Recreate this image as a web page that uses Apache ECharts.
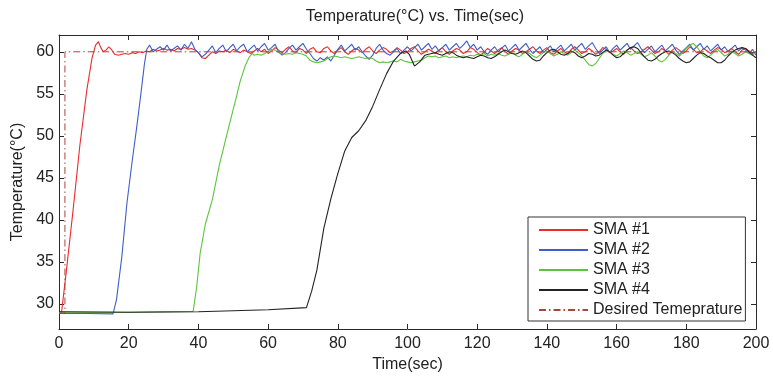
<!DOCTYPE html>
<html>
<head>
<meta charset="utf-8">
<script src="https://cdn.jsdelivr.net/npm/echarts@6/dist/echarts.min.js"></script>
<style>
html,body{margin:0;padding:0;background:#fff;}
#chart{width:773px;height:380px;}
</style>
</head>
<body>
<div id="chart"></div>
<script>
// ---- axis ticks ----
const xTicks = [0, 20, 40, 60, 80, 100, 120, 140, 160, 180, 200];
const yTicks = [30, 35, 40, 45, 50, 55, 60];

// ---- SMA #1 (red) ----
const sma1RiseTime = [0, 0.7, 2, 4, 6, 8, 9.5, 10.5, 11.3, 12, 12.7, 13.5, 14.3, 15, 16];
const sma1RiseTemp = [28.9, 28.9, 33.5, 41, 48.9, 55.5, 59.3, 60.8, 61.2, 60.5, 60.0, 60.2, 60.6, 60.3, 59.7];
const sma1HoldStart = 17; // 1 s samples
const sma1HoldTemp = [
  59.6, 59.7, 59.8, 59.7, 59.9, 59.8, 60.0, 59.9, 60.1, 60.0,
  60.3, 60.1, 60.2, 60.4, 60.2, 60.3, 60.1, 60.4, 60.3, 60.5,
  60.3, 60.4, 60.2, 59.9, 59.3, 59.2, 59.6, 60.0, 59.8, 60.1,
  60.0, 60.2, 59.9, 60.3, 60.1, 59.9, 60.2, 60.0, 59.8, 60.1,
  60.4, 60.0, 60.3, 59.8, 60.1, 60.5, 60.2, 59.9, 60.3, 60.6,
  60.1, 59.9, 60.4, 60.2, 59.8, 60.3, 60.5, 60.0, 59.9, 60.4,
  60.6, 60.1, 59.8, 60.2, 60.5, 60.0, 59.7, 60.1, 60.4, 60.2,
  59.9, 60.3, 60.6, 60.1, 59.8, 60.2, 60.5, 60.3, 59.9, 60.1,
  60.5, 60.2, 59.8, 60.0, 60.4, 60.6, 60.1, 59.7, 60.0, 60.3,
  60.1, 59.8, 60.2, 60.5, 60.0, 59.7, 60.1, 60.4, 60.2, 59.8,
  60.0, 60.5, 60.3, 59.9, 59.6, 60.0, 60.4, 60.1, 59.8, 60.2,
  60.5, 60.0, 59.7, 60.1, 60.4, 60.2, 59.8, 60.0, 60.3, 60.6,
  60.1, 59.8, 60.2, 60.5, 59.9, 59.7, 60.1, 60.4, 60.0, 59.8,
  60.3, 60.6, 60.2, 59.8, 60.0, 60.4, 60.1, 59.7, 60.0, 60.5,
  60.3, 59.9, 60.1, 60.4, 60.0, 59.7, 60.2, 60.5, 60.1, 59.8,
  60.0, 60.3, 60.6, 60.2, 59.8, 60.0, 60.4, 60.1, 59.7, 60.2,
  60.5, 60.2, 59.8, 60.1, 60.6, 60.3, 59.9, 60.0, 60.4, 60.1,
  59.8, 60.2, 60.5, 60.3, 59.9, 60.1, 60.4, 60.0, 59.7, 60.2,
  60.4, 60.1, 59.8, 60.0
];

// ---- SMA #2 (blue) ----
const sma2RiseTime = [0, 8, 15.5, 16.5, 18, 19.5, 21, 22.2, 23.5, 24.5, 25.2];
const sma2RiseTemp = [28.85, 28.85, 28.8, 30.5, 35.5, 42, 47, 50.7, 55, 58.5, 60.3];
const sma2HoldStart = 26;
const sma2HoldTemp = [
  60.8, 60.0, 60.3, 60.6, 60.2, 60.8, 60.1, 60.4, 60.7, 60.2,
  60.9, 60.4, 61.2, 60.3, 59.9, 59.4, 59.7, 60.2, 60.7, 59.9,
  60.4, 60.8, 60.0, 60.5, 60.9, 60.1, 60.6, 60.9, 60.0, 60.4,
  60.8, 60.1, 60.6, 61.0, 60.2, 60.5, 60.9, 60.0, 59.6, 59.9,
  60.4, 60.8, 60.2, 60.6, 61.0, 60.3, 59.8, 59.2, 58.9, 59.3,
  59.0, 59.4, 58.9, 59.6, 60.3, 60.8, 60.1, 60.5, 60.9, 60.2,
  60.6, 60.0, 59.5, 59.1, 59.6, 60.4, 60.9, 60.2, 59.8, 59.6,
  60.0, 60.4, 59.8, 60.2, 60.6, 60.1, 60.5, 60.9, 60.2, 60.6,
  61.0, 60.3, 60.7, 60.1, 60.5, 60.9, 60.2, 60.6, 61.0, 60.4,
  60.8, 61.3, 60.5, 60.9, 60.2, 60.6, 60.0, 59.7, 60.2, 60.6,
  60.0, 60.4, 60.8, 60.1, 60.5, 60.9, 60.2, 60.6, 61.0, 60.3,
  59.8, 60.2, 60.6, 59.9, 60.3, 60.7, 60.0, 60.4, 60.8, 60.1,
  60.5, 60.9, 60.2, 60.6, 61.0, 60.3, 60.7, 61.1, 60.4, 59.8,
  60.2, 60.6, 59.9, 60.4, 60.8, 60.2, 60.6, 61.0, 60.3, 60.7,
  61.1, 60.4, 59.9, 60.3, 60.7, 60.0, 60.4, 60.8, 60.1, 60.5,
  60.9, 60.2, 59.7, 60.1, 60.5, 60.9, 60.2, 60.6, 61.0, 60.3,
  60.7, 60.1, 60.5, 60.9, 60.2, 60.6, 60.0, 60.4, 60.8, 60.1,
  60.5, 60.2, 59.8, 60.3, 59.6
];

// ---- SMA #3 (green) ----
const sma3RiseTime = [0, 20, 38.5, 39.5, 40.5, 42, 44, 46, 48.5, 50.7, 52, 53.4, 54.5, 55.4];
const sma3RiseTemp = [29.0, 29.0, 29.1, 32, 36, 39.5, 42.4, 46.5, 50.7, 54.3, 56.5, 58.3, 59.3, 59.8];
const sma3HoldStart = 56;
const sma3HoldTemp = [
  59.6, 59.7, 59.6, 59.8, 60.0, 60.3, 60.2, 59.9, 59.8, 59.7,
  59.8, 59.7, 59.9, 59.8, 59.7, 59.5, 59.0, 58.8, 58.7, 58.8,
  58.9, 59.2, 59.4, 59.5, 59.4, 59.3, 59.4, 59.3, 59.2, 59.3,
  59.4, 59.3, 59.2, 59.3, 59.2, 58.9, 58.7, 58.8, 58.7, 58.8,
  58.9, 58.8, 59.1, 58.9, 58.8, 58.7, 58.8, 58.9, 59.0, 59.3,
  59.5, 59.4, 59.5, 59.3, 59.4, 59.5, 59.3, 59.4, 59.3, 59.4,
  59.5, 59.4, 59.6, 59.5, 59.7, 59.6, 59.8, 59.5, 59.7, 59.6,
  59.8, 59.6, 59.5, 59.7, 59.9, 59.6, 59.4, 59.7, 60.0, 59.8,
  59.5, 59.3, 59.6, 59.9, 60.1, 59.8, 59.5, 59.7, 60.0, 59.8,
  59.6, 59.9, 60.2, 59.9, 59.5, 59.0, 58.5, 58.3, 58.6, 59.2,
  59.8, 60.2, 60.0, 59.7, 59.5, 59.8, 60.1, 59.9, 59.6, 59.8,
  60.0, 59.7, 59.4, 59.6, 59.9, 59.5, 59.0, 58.8, 59.1, 59.6,
  60.0, 59.8, 59.5, 59.9, 60.4, 60.8, 61.0, 60.6, 60.0, 59.5,
  59.3, 59.6, 60.0, 60.3, 59.9, 59.5, 59.7, 60.1, 59.8, 59.5,
  59.7, 60.0, 59.8, 59.6, 59.9
];

// ---- SMA #4 (black) ----
const sma4RiseTime = [0, 20, 40, 60, 71, 72.5, 74, 76, 78, 80, 82, 84, 86, 88, 90, 92, 94, 96, 98, 99.5, 100.5, 102, 103.5, 105];
const sma4RiseTemp = [29.05, 29.0, 29.05, 29.3, 29.55, 31.5, 34, 39, 42.5, 45.5, 48.2, 49.8, 50.6, 51.8, 53.5, 55.5, 57.4, 58.9, 59.8, 60.1, 59.7, 58.3, 58.8, 59.6];
const sma4HoldStart = 106;
const sma4HoldTemp = [
  59.7, 59.8, 59.9, 59.7, 59.6, 59.8, 60.0, 59.9, 59.6, 59.4,
  59.3, 59.4, 59.3, 59.2, 59.4, 59.6, 59.5, 59.3, 59.2, 59.4,
  59.7, 60.0, 60.2, 60.0, 59.8, 59.7, 59.9, 60.1, 59.9, 59.5,
  59.1, 58.9, 59.0, 59.5, 59.9, 60.2, 60.3, 60.0, 59.7, 59.6,
  59.8, 60.1, 59.9, 59.5, 59.3, 59.5, 59.8, 59.7, 59.5, 59.6,
  59.9, 60.2, 60.0, 59.6, 59.3, 59.4, 59.8, 60.2, 60.5, 60.6,
  60.4, 59.9, 59.4, 59.0, 58.9, 59.1, 59.5, 59.8, 60.0, 60.1,
  59.9, 59.6, 59.2, 58.9, 58.7, 58.8, 59.2, 59.6, 59.9, 59.8,
  59.5, 59.3, 59.0, 58.7, 58.7, 59.0, 59.5, 59.9, 60.2, 60.4,
  60.5, 60.4, 60.0, 59.6, 59.3
];

// ---- Desired temperature ----
const desiredTime = [0, 1.7, 1.7, 200];
const desiredTemp = [28.9, 28.9, 60, 60];

const seriesNames = ['SMA #1', 'SMA #2', 'SMA #3', 'SMA #4', 'Desired Temeprature'];

function pairs(ts, vs) { return ts.map((t, i) => [t, vs[i]]); }
function build(rt, rv, start, hv) {
  const d = pairs(rt, rv);
  hv.forEach((v, i) => d.push([start + i, v]));
  return d;
}

const chart = echarts.init(document.getElementById('chart'), null, {renderer: 'canvas'});
const FONT = 'Liberation Sans, Arial, Helvetica, sans-serif';
const AX = '#2a2a2a';
const FS = 16;

function lineSeries(name, color, data, extra) {
  return Object.assign({
    name: name, type: 'line', data: data, symbol: 'none', showSymbol: false,
    lineStyle: {color: color, width: 1.1}, itemStyle: {color: color},
    emphasis: {disabled: true}, animation: false, clip: true
  }, extra || {});
}

chart.setOption({
  animation: false,
  backgroundColor: '#fff',
  title: {
    text: 'Temperature(\u00B0C) vs. Time(sec)',
    left: 410, top: 4, textAlign: 'center',
    textStyle: {fontFamily: FONT, fontSize: FS, fontWeight: 'normal', color: '#222'}
  },
  grid: {left: 59, right: 17, top: 35, bottom: 51, containLabel: false},
  legend: {
    orient: 'vertical', left: 528, top: 217,
    itemWidth: 49, itemHeight: 14, itemGap: 4,
    padding: [5, 3, 3, 10],
    backgroundColor: '#fff', borderColor: '#333', borderWidth: 1,
    itemStyle: {opacity: 0},
    textStyle: {fontFamily: FONT, fontSize: FS, color: '#222'},
    data: seriesNames,
    selectedMode: false
  },
  xAxis: [{
    type: 'value', min: 0, max: 200, interval: 20, position: 'bottom',
    axisLine: {show: true, onZero: false, lineStyle: {color: AX, width: 1}},
    axisTick: {show: true, inside: true, length: 5, lineStyle: {color: AX}},
    axisLabel: {fontFamily: FONT, fontSize: FS, color: '#222', margin: 7},
    splitLine: {show: false},
    name: 'Time(sec)', nameLocation: 'middle', nameGap: 23,
    nameTextStyle: {fontFamily: FONT, fontSize: FS, color: '#222'}
  }, {
    type: 'value', min: 0, max: 200, interval: 20, position: 'top',
    axisLine: {show: true, onZero: false, lineStyle: {color: AX, width: 1}},
    axisTick: {show: true, inside: true, length: 5, lineStyle: {color: AX}},
    axisLabel: {show: false}, splitLine: {show: false}
  }],
  yAxis: [{
    type: 'value', min: 27, max: 62, position: 'left',
    axisLine: {show: true, onZero: false, lineStyle: {color: AX, width: 1}},
    axisTick: {show: true, inside: true, length: 5, lineStyle: {color: AX}, customValues: yTicks},
    axisLabel: {fontFamily: FONT, fontSize: FS, color: '#222', margin: 5, customValues: yTicks},
    splitLine: {show: false},
    name: 'Temperature(\u00B0C)', nameLocation: 'middle', nameGap: 28, nameRotate: 90,
    nameTextStyle: {fontFamily: FONT, fontSize: FS, color: '#222'}
  }, {
    type: 'value', min: 27, max: 62, position: 'right',
    axisLine: {show: true, onZero: false, lineStyle: {color: AX, width: 1}},
    axisTick: {show: true, inside: true, length: 5, lineStyle: {color: AX}, customValues: yTicks},
    axisLabel: {show: false}, splitLine: {show: false}
  }],
  series: [
    lineSeries(seriesNames[0], '#ec2b2e', build(sma1RiseTime, sma1RiseTemp, sma1HoldStart, sma1HoldTemp)),
    lineSeries(seriesNames[1], '#3d5fc6', build(sma2RiseTime, sma2RiseTemp, sma2HoldStart, sma2HoldTemp)),
    lineSeries(seriesNames[2], '#5cc43c', build(sma3RiseTime, sma3RiseTemp, sma3HoldStart, sma3HoldTemp)),
    lineSeries(seriesNames[3], '#222222', build(sma4RiseTime, sma4RiseTemp, sma4HoldStart, sma4HoldTemp)),
    lineSeries(seriesNames[4], '#a8463a', pairs(desiredTime, desiredTemp), {
      lineStyle: {color: '#a8463a', width: 1, type: [7, 3, 1.5, 3]}
    })
  ]
});
</script>
</body>
</html>
